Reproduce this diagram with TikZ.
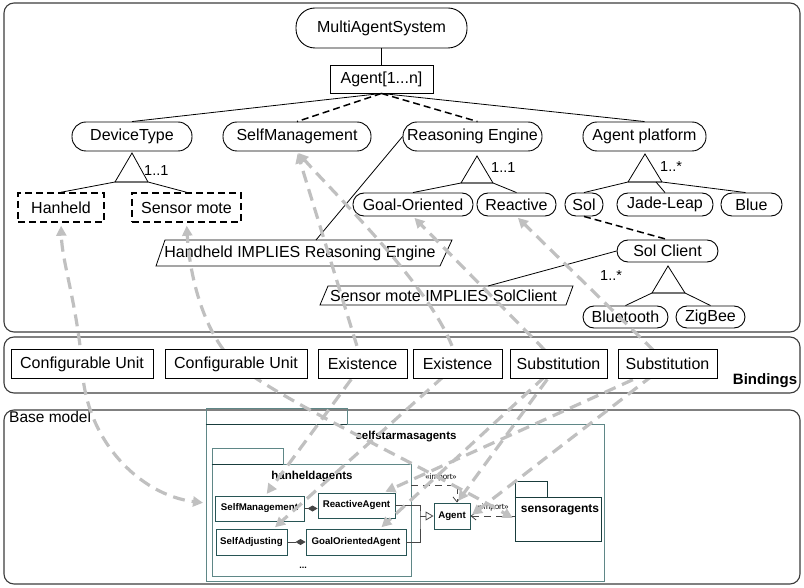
\documentclass[tikz,border=0pt]{standalone}
\usepackage{fontspec}
\setmainfont{Liberation Sans}
\usetikzlibrary{arrows.meta,calc}
\definecolor{panelline}{RGB}{60,60,60}
\definecolor{linkgray}{RGB}{192,192,192}
\definecolor{pkgline}{RGB}{95,135,135}
\definecolor{pkgdark}{RGB}{25,60,60}
\definecolor{clsline}{RGB}{40,85,85}
\definecolor{depline}{RGB}{70,70,70}
\newcommand\featfont{\fontsize{16}{18}\selectfont}
\begin{document}
\begin{tikzpicture}[x=1pt,y=-1pt,
  panel/.style={draw=panelline,line width=1.1pt,rounded corners=10pt},
  feat/.style={draw,line width=0.9pt,rounded corners=14pt,inner sep=0pt,font=\featfont},
  smallfeat/.style={feat,rounded corners=11pt},
  featbox/.style={draw,line width=0.9pt,inner sep=0pt,font=\featfont},
  optfeat/.style={draw,line width=1.5pt,dash pattern=on 7pt off 4pt,inner sep=0pt,font=\featfont},
  fline/.style={draw,line width=0.8pt},
  optline/.style={draw,line width=1.5pt,dash pattern=on 7pt off 4pt},
  gbase/.style={draw=black!55,line width=1.4pt},
  card/.style={font=\fontsize{14.5}{16}\selectfont,inner sep=0pt},
  ctext/.style={font=\featfont,inner sep=0pt},
  bindbox/.style={draw,fill=white,line width=1pt,inner sep=0pt,minimum height=28pt,font=\featfont},
  link/.style={draw=linkgray,line width=3.2pt,dash pattern=on 12pt off 7pt,
    -{Triangle[length=10pt,width=10pt]},shorten >=2pt},
  pkg/.style={draw=pkgline,line width=0.9pt,inner sep=0pt},
  cls/.style={draw=clsline,line width=0.9pt,inner sep=0pt,font=\fontsize{9.7}{11}\bfseries},
  pkgtxt/.style={inner sep=0pt,font=\fontsize{11.5}{13}\bfseries},
  dep/.style={draw=depline,line width=0.8pt,dash pattern=on 7pt off 5pt,
    -{Straight Barb[length=5pt,width=8pt]}},
  deptxt/.style={inner sep=0pt,font=\fontsize{8}{9}\selectfont}
]
\useasboundingbox (0,0) rectangle (804,588);

% ---------- the three panels ----------
\draw[panel] (4,3) rectangle (800,332);
\draw[panel] (4,337) rectangle (800,393);
\draw[panel] (4,410) rectangle (800,584);

% ---------- feature model ----------
\node[feat,rounded corners=19pt,minimum width=171pt,minimum height=40pt] (mas) at (381.5,28) {MultiAgentSystem};
\node[featbox,minimum width=103pt,minimum height=28pt] (agent) at (381.5,79) {Agent[1...n]};

\node[feat,minimum width=120pt,minimum height=29pt] (devicetype) at (132,136.5) {DeviceType};
\node[feat,minimum width=148pt,minimum height=29pt] (selfmgmt) at (297,136.5) {SelfManagement};
\node[feat,minimum width=139pt,minimum height=29pt] (reasoning) at (472.5,136.5) {Reasoning Engine};
\node[feat,minimum width=123pt,minimum height=29pt] (platform) at (644.5,136.5) {Agent platform};

\node[optfeat,minimum width=86pt,minimum height=29pt] (hanheld) at (61,207.5) {Hanheld};
\node[optfeat,minimum width=109pt,minimum height=29pt] (sensor) at (186.5,207.5) {Sensor mote};

\node[smallfeat,minimum width=120pt,minimum height=23pt] (goal) at (413,204.5) {Goal-Oriented};
\node[smallfeat,minimum width=79pt,minimum height=23pt] (reactive) at (516.5,204.5) {Reactive};
\node[smallfeat,minimum width=38pt,minimum height=23pt] (sol) at (584,204.5) {Sol};
\node[smallfeat,minimum width=96pt,minimum height=23pt] (jade) at (665,204.5) {Jade-Leap};
\node[smallfeat,minimum width=61pt,minimum height=23pt] (blue) at (751.5,204.5) {Blue};

\node[smallfeat,minimum width=101pt,minimum height=22pt] (solclient) at (667.5,251) {Sol Client};
\node[smallfeat,minimum width=85pt,minimum height=22pt] (bluetooth) at (625.5,317) {Bluetooth};
\node[smallfeat,minimum width=69pt,minimum height=22pt] (zigbee) at (710.5,317) {ZigBee};

% decomposition edges
\draw[fline] (mas.south) -- (agent.north);
\draw[fline] (agent.south) -- (devicetype.north);
\draw[optline] (agent.south) -- (selfmgmt.north);
\draw[optline] (agent.south) -- ($(reasoning.north)+(5,0)$);
\draw[fline] (agent.south) -- (platform.north);
\draw[optline] (sol.south) -- (solclient.north);

% alternative groups
\coordinate (dtA) at (132,153); \coordinate (dtL) at (115,182); \coordinate (dtR) at (148,182);
\coordinate (reA) at (477,156); \coordinate (reL) at (461,183); \coordinate (reR) at (493,183);
\coordinate (apA) at (645,154); \coordinate (apL) at (628,182); \coordinate (apR) at (662,182);
\coordinate (apM) at (656,182);
\coordinate (scA) at (668,266); \coordinate (scL) at (652,293); \coordinate (scR) at (685,293);

\draw[gbase] (dtL) -- (dtR);
\draw[gbase] (reL) -- (reR);
\draw[gbase] (apL) -- (apR);
\draw[gbase] (scL) -- (scR);
\draw[fline] (dtL) -- (dtA) -- (dtR);
\draw[fline] (reL) -- (reA) -- (reR);
\draw[fline] (apL) -- (apA) -- (apR);
\draw[fline] (scL) -- (scA) -- (scR);

\draw[fline] (dtL) -- (hanheld.north);
\draw[fline] (dtR) -- (sensor.north);
\draw[fline] (reL) -- (goal.north);
\draw[fline] (reR) -- (reactive.north);
\draw[fline] (apL) -- (sol.north);
\draw[fline] (apM) -- (jade.north);
\draw[fline] (apR) -- ($(blue.north)+(-6,0)$);
\draw[fline] (scL) -- (bluetooth.north);
\draw[fline] (scR) -- (zigbee.north);

\node[card,anchor=west] (c1) at (144,171) {1..1};
\node[card,anchor=west] (c2) at (491,168) {1..1};
\node[card,anchor=west] (c3) at (660,167) {1..*};
\node[card,anchor=west] (c4) at (600,276) {1..*};

% cross-tree constraints
\node[ctext] (impl1) at (300,253) {Handheld IMPLIES Reasoning Engine};
\draw[fline] (156,266) -- (165,240) -- (452,240) -- (440,266) -- cycle;
\node[ctext] (impl2) at (443.5,296) {Sensor mote IMPLIES SolClient};
\draw[fline] (320,305) -- (328,286) -- (573,286) -- (566,305) -- cycle;
\coordinate (impl1top) at (316,240);
\coordinate (impl2top) at (488,286);
\draw[fline] (reasoning.west) -- (impl1top);
\draw[fline] (solclient.west) -- (impl2top);

% ---------- base model ----------
\node[anchor=west,inner sep=0pt,font=\fontsize{15.5}{17}\selectfont] (basetitle) at (9,417) {Base model};

% packages
\node[pkg,minimum width=398pt,minimum height=157pt] (mpkg) at (405,502.5) {};
\node[pkg,minimum width=141pt,minimum height=16pt] (mtab) at (276.5,416) {};
\draw[pkgdark,line width=1.6pt] (mtab.south west) -- (mtab.south east);
\node[pkgtxt] (mlabel) at (406,437) {selfstarmasagents};

\node[pkg,minimum width=199pt,minimum height=112pt] (hpkg) at (311.5,520) {};
\node[pkg,minimum width=71pt,minimum height=16pt] (htab) at (247.5,456) {};
\draw[pkgdark,line width=1.6pt] (htab.south west) -- (htab.south east);
\node[pkgtxt] (hlabel) at (312,477) {hanheldagents};

\node[pkg,draw=pkgdark,minimum width=86pt,minimum height=44pt] (spkg) at (558,519) {};
\node[pkg,draw=pkgdark,minimum width=32pt,minimum height=16pt] (stab) at (531,489) {};
\draw[pkgdark,line width=1.6pt] (stab.south west) -- (stab.south east);
\node[pkgtxt,font=\fontsize{12}{14}\bfseries] (slabel) at (560,510) {sensoragents};

% classes
\node[cls,minimum width=89pt,minimum height=25pt] (smc) at (259.5,508.5) {SelfManagement};
\node[cls,minimum width=77pt,minimum height=25pt] (rac) at (356.5,505.5) {ReactiveAgent};
\node[cls,minimum width=71pt,minimum height=26pt] (sac) at (251.5,542) {SelfAdjusting};
\node[cls,minimum width=100pt,minimum height=26pt] (goa) at (356,542) {GoalOrientedAgent};
\node[cls,minimum width=36pt,minimum height=26pt] (agc) at (452,516) {Agent};
\node[inner sep=0pt,font=\fontsize{9}{10}\bfseries] (dots) at (303,568) {...};

% compositions
\draw[depline,line width=0.8pt,-{Diamond[length=10pt,width=6pt]}] (smc.east) -- (smc.east -| rac.west);
\draw[depline,line width=0.8pt,-{Diamond[length=10pt,width=6pt]}] (sac.east) -- (goa.west);

% generalisation
\coordinate (gj) at (420,516);
\draw[depline,line width=0.8pt] (rac.east) -| (gj) |- (goa.east);
\draw[depline,line width=0.8pt,-{Triangle[open,length=8pt,width=9pt,fill=white]}] (gj) -- (agc.west);

% imports
\coordinate (imp1a) at (411,485);
\coordinate (imp1b) at (457,485);
\draw[dep] (imp1a) -- (imp1b) -- (imp1b |- agc.north);
\node[deptxt] (imp1t) at (441,477) {«import»};
\draw[dep] (spkg.west |- agc.east) -- (agc.east);
\node[deptxt] (imp2t) at (493,507) {«import»};

% ---------- binding links (drawn under the binding boxes) ----------
\coordinate (cu1tip) at (205,503);
\draw[link,shorten >=3pt] (82,364) .. controls (76,300) and (62,262) .. (hanheld.south);
\draw[link] (82,364) .. controls (84,440) and (140,495) .. (cu1tip);
\draw[link,shorten >=3pt] (236,364) .. controls (205,335) and (190,280) .. (sensor.south);
\draw[link] (236,364) .. controls (280,400) and (420,465) .. (spkg.west);
\draw[link] (362.5,364) -- (selfmgmt.south);
\draw[link] (362.5,364) -- ($(smc.north)+(6,0)$);
\draw[link] (457.5,364) .. controls (445,300) and (340,200) .. (selfmgmt.south);
\draw[link] (457.5,364) -- ($(sac.north)+(22,0)$);
\draw[link] (558.5,364) -- (goal.south);
\draw[link] (558.5,364) -- ($(goa.north)+(24,0)$);
\draw[link] (558.5,364) -- ($(agc.north)+(5,0)$);
\draw[link] (667.5,364) -- (reactive.south);
\draw[link] (667.5,364) -- ($(rac.north)+(27,0)$);
\draw[link] (667.5,364) -- (agc.east);

% ---------- bindings ----------
\node[bindbox,minimum width=142pt] (cu1) at (82,364) {Configurable Unit};
\node[bindbox,minimum width=142pt] (cu2) at (236,364) {Configurable Unit};
\node[bindbox,minimum width=89pt] (ex1) at (362.5,364) {Existence};
\node[bindbox,minimum width=89pt] (ex2) at (457.5,364) {Existence};
\node[bindbox,minimum width=97pt] (s1) at (558.5,364) {Substitution};
\node[bindbox,minimum width=99pt] (s2) at (667.5,364) {Substitution};
\node[inner sep=0pt,font=\fontsize{15}{17}\bfseries] (bindtitle) at (765,381) {Bindings};
\end{tikzpicture}
\end{document}
